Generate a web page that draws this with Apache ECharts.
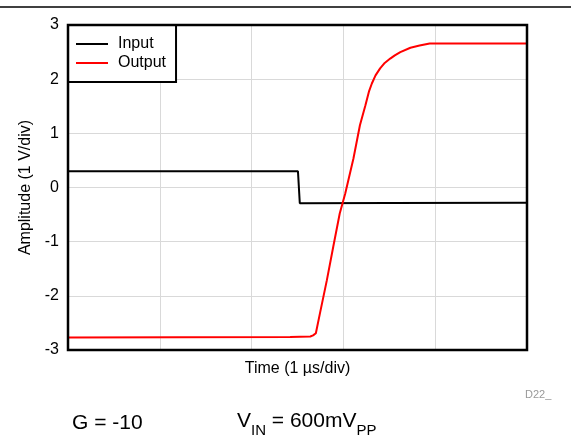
<!DOCTYPE html>
<html>
<head>
<meta charset="utf-8">
<script src="https://cdn.jsdelivr.net/npm/echarts@6/dist/echarts.min.js"></script>
<style>
  html, body { margin: 0; padding: 0; background: #fff; }
  #main { width: 571px; height: 437px; }
</style>
</head>
<body>
<div id="main"></div>
<script>
// time in us, amplitude in V
var inputData = [
  [0, 0.30], [2.505, 0.30], [2.525, -0.29], [3.5, -0.285], [5, -0.28]
];
var outputData = [
  [0, -2.77], [2.42, -2.76], [2.64, -2.75], [2.67, -2.73], [2.70, -2.69],
  [2.745, -2.32], [2.82, -1.71], [2.89, -1.09], [2.96, -0.48], [3.02, -0.11],
  [3.11, 0.54], [3.18, 1.15], [3.24, 1.52], [3.28, 1.78], [3.31, 1.92],
  [3.35, 2.07], [3.40, 2.20], [3.45, 2.30], [3.51, 2.38], [3.56, 2.44],
  [3.62, 2.50], [3.73, 2.58], [3.83, 2.62], [3.94, 2.66], [5, 2.66]
];
var yTicks = [-3, -2, -1, 0, 1, 2, 3];

var dom = document.getElementById('main');
var myChart = echarts.init(dom);
var font = 'Liberation Sans';

// plot box (px)
var gl = 68, gt = 25, gw = 459, gh = 325;

option = {
  animation: false,
  textStyle: { fontFamily: font },
  grid: {
    left: gl,
    top: gt,
    width: gw,
    height: gh
  },
  legend: {
    left: 68,
    top: 25,
    orient: 'vertical',
    backgroundColor: '#fff',
    borderColor: '#000',
    borderWidth: 2,
    padding: [11, 10, 11, 8],
    itemGap: 3,
    itemWidth: 32,
    itemHeight: 16,
    icon: 'path://M0,7 L32,7 L32,9 L0,9 Z',
    textStyle: { fontSize: 16, color: '#000', fontFamily: font, padding: [0, 0, 0, 5] },
    data: ['Input', 'Output']
  },
  xAxis: {
    type: 'value',
    min: 0,
    max: 5,
    interval: 1,
    name: 'Time (1 \u00b5s/div)',
    nameLocation: 'middle',
    nameGap: 11,
    nameTextStyle: { fontSize: 16, color: '#000', verticalAlign: 'top' },
    axisLine: { show: false },
    axisTick: { show: false },
    axisLabel: { show: false },
    splitLine: { show: true, lineStyle: { color: '#d9d9d9', width: 1 } }
  },
  yAxis: {
    type: 'value',
    min: yTicks[0],
    max: yTicks[yTicks.length - 1],
    interval: 1,
    name: 'Amplitude (1 V/div)',
    nameLocation: 'middle',
    nameGap: 31,
    nameTextStyle: { fontSize: 16, color: '#000' },
    axisLine: { show: false },
    axisTick: { show: false },
    axisLabel: { fontSize: 16, color: '#000', margin: 9 },
    splitLine: { show: true, lineStyle: { color: '#d9d9d9', width: 1 } }
  },
  series: [
    {
      name: 'Input',
      type: 'line',
      data: inputData,
      showSymbol: false,
      symbol: 'none',
      color: '#000',
      lineStyle: { width: 2, color: '#000' },
      z: 3
    },
    {
      name: 'Output',
      type: 'line',
      data: outputData,
      showSymbol: false,
      symbol: 'none',
      color: '#ff0000',
      lineStyle: { width: 2, color: '#ff0000' },
      z: 4
    }
  ],
  graphic: [
    {
      type: 'rect',
      z: 5,
      shape: { x: gl, y: gt, width: gw, height: gh },
      style: { fill: 'none', stroke: '#000', lineWidth: 2.5 },
      silent: true
    },
    {
      type: 'line',
      shape: { x1: 0, y1: 7, x2: 571, y2: 7 },
      style: { stroke: '#000', lineWidth: 1.5 }
    },
    {
      type: 'text',
      left: 525,
      top: 389,
      style: { text: 'D22_', fontSize: 11, fill: '#999', fontFamily: font }
    },
    {
      type: 'text',
      left: 72,
      top: 413,
      style: { text: 'G = -10', fontSize: 21, fill: '#000', fontFamily: font }
    },
    {
      type: 'text',
      left: 237,
      top: 411,
      style: {
        text: '{n|V}{s|IN}{n| = 600mV}{s|PP}',
        fontFamily: font,
        rich: {
          n: { fontSize: 21, fill: '#000', fontFamily: font, verticalAlign: 'top', padding: [2, 0, 0, 0] },
          s: { fontSize: 15, fill: '#000', fontFamily: font, verticalAlign: 'bottom', padding: [14, 0, 0, 0] }
        }
      }
    }
  ]
};

if (option && typeof option === 'object') {
  myChart.setOption(option, true);
}
</script>
</body>
</html>
